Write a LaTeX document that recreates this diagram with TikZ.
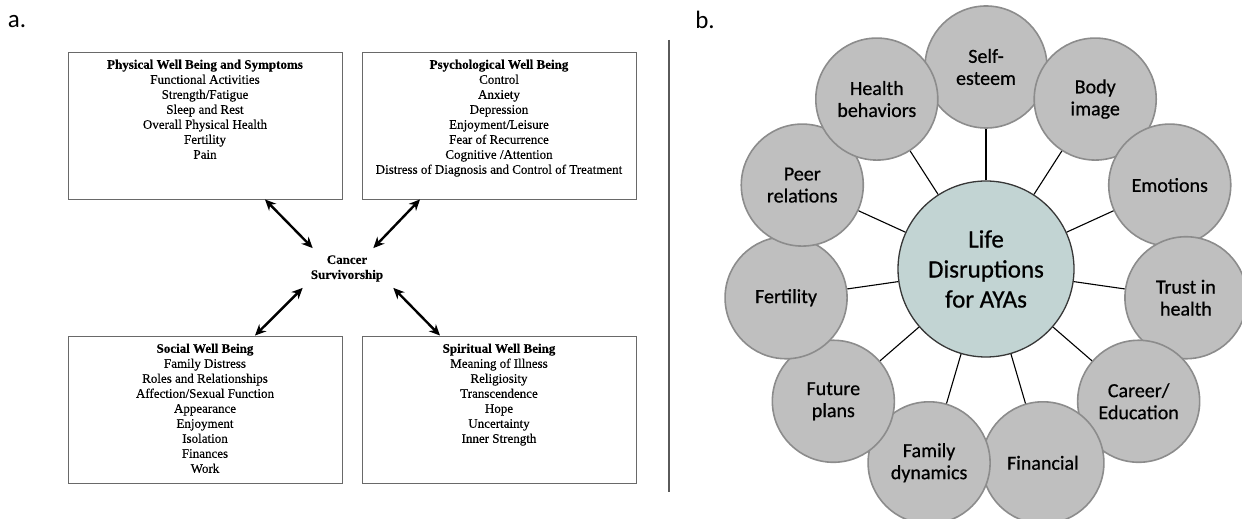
\documentclass[tikz,border=0pt]{standalone}
\usepackage{fontspec}
\setmainfont{Liberation Serif}[FakeBold=0.3]
\newfontfamily\calibri{Carlito}[FakeBold=0.6]
\newfontfamily\calibrilight{Carlito}
\usetikzlibrary{positioning,arrows.meta}
\definecolor{boxline}{RGB}{105,105,105}
\definecolor{rulegray}{RGB}{90,90,90}
\definecolor{satfill}{RGB}{191,191,191}
\definecolor{satline}{RGB}{140,140,140}
\definecolor{hubfill}{RGB}{194,212,211}
\definecolor{hubline}{RGB}{55,55,55}
\tikzset{
  panel/.style={draw=boxline, line width=0.9pt, minimum width=274pt, minimum height=147pt, inner sep=0pt},
  items/.style={align=center, inner sep=0pt, font=\fontsize{13}{15}\selectfont},
  biarrow/.style={{Stealth[length=11pt,width=10pt]}-{Stealth[length=11pt,width=10pt]}, line width=2.4pt},
  lbl/.style={font=\calibrilight\fontsize{25}{30}\selectfont, inner sep=0pt},
  sat/.style={circle, draw=satline, line width=1.6pt, fill=satfill, minimum size=122pt, inner sep=0pt, align=center, font=\calibri\fontsize{20}{22}\selectfont},
  hub/.style={circle, draw=hubline, line width=1.3pt, fill=hubfill, minimum size=176pt, inner sep=0pt, align=center, font=\calibri\fontsize{25}{30}\selectfont},
  spoke/.style={draw=black, line width=1.1pt}
}
\begin{document}
\begin{tikzpicture}[x=1pt,y=1pt]
    \useasboundingbox (0,0) rectangle (1242,519);
    % panel a
    \node[lbl] (la) at (17,497) {a.};
    \node[panel] (tl) at (205,393.5) {};
    \node[panel] (tr) at (499,393.5) {};
    \node[panel] (bl) at (205,109.5) {};
    \node[panel] (br) at (499,109.5) {};
    \node[items, below=8pt of tl.north] (tltext) {\textbf{Physical Well Being and Symptoms}\\ Functional Activities\\ Strength/Fatigue\\ Sleep and Rest\\ Overall Physical Health\\ Fertility\\ Pain};
    \node[items, below=8pt of tr.north] (trtext) {\textbf{Psychological Well Being}\\ Control\\ Anxiety\\ Depression\\ Enjoyment/Leisure\\ Fear of Recurrence\\ Cognitive /Attention\\ Distress of Diagnosis and Control of Treatment};
    \node[items, below=8pt of bl.north] (bltext) {\textbf{Social Well Being}\\ Family Distress\\ Roles and Relationships\\ Affection/Sexual Function\\ Appearance\\ Enjoyment\\ Isolation\\ Finances\\ Work};
    \node[items, below=8pt of br.north] (brtext) {\textbf{Spiritual Well Being}\\ Meaning of Illness\\ Religiosity\\ Transcendence\\ Hope\\ Uncertainty\\ Inner Strength};
    \node[items] (cancer) at (347,250.5) {\textbf{Cancer}\\ \textbf{Survivorship}};
    \draw[biarrow] ([xshift=60pt]tl.south) -- ([shift={(2pt,7pt)}]cancer.north west);
    \draw[biarrow] ([xshift=-79pt]tr.south) -- ([shift={(-10pt,7pt)}]cancer.north east);
    \draw[biarrow] ([shift={(-8pt,-6pt)}]cancer.south west) -- ([xshift=50pt]bl.north);
    \draw[biarrow] ([shift={(10pt,-6pt)}]cancer.south east) -- ([xshift=-59pt]br.north);
    \draw[rulegray, line width=2pt] (669,479) -- (669,27);
    % panel b
    \node[lbl] (lb) at (705,499) {b.};
    \node[hub] (life) at (986,250) {Life\\ Disruptions\\ for AYAs};
    \foreach \name/\txt [count=\i from 0] in {self/{Self-\\esteem}, body/{Body\\image}, emo/Emotions, trust/{Trust in\\health}, career/{Career/\\Education}, money/Financial, family/{Family\\dynamics}, future/{Future\\plans}, fert/Fertility, peer/{Peer\\relations}, health/{Health\\behaviors}}{
      \node[sat] (\name) at ([shift={(90-\i*32.7273:202pt)}]life.center) {\txt};
      \draw[spoke] (life) -- (\name);
    }
\end{tikzpicture}
\end{document}
